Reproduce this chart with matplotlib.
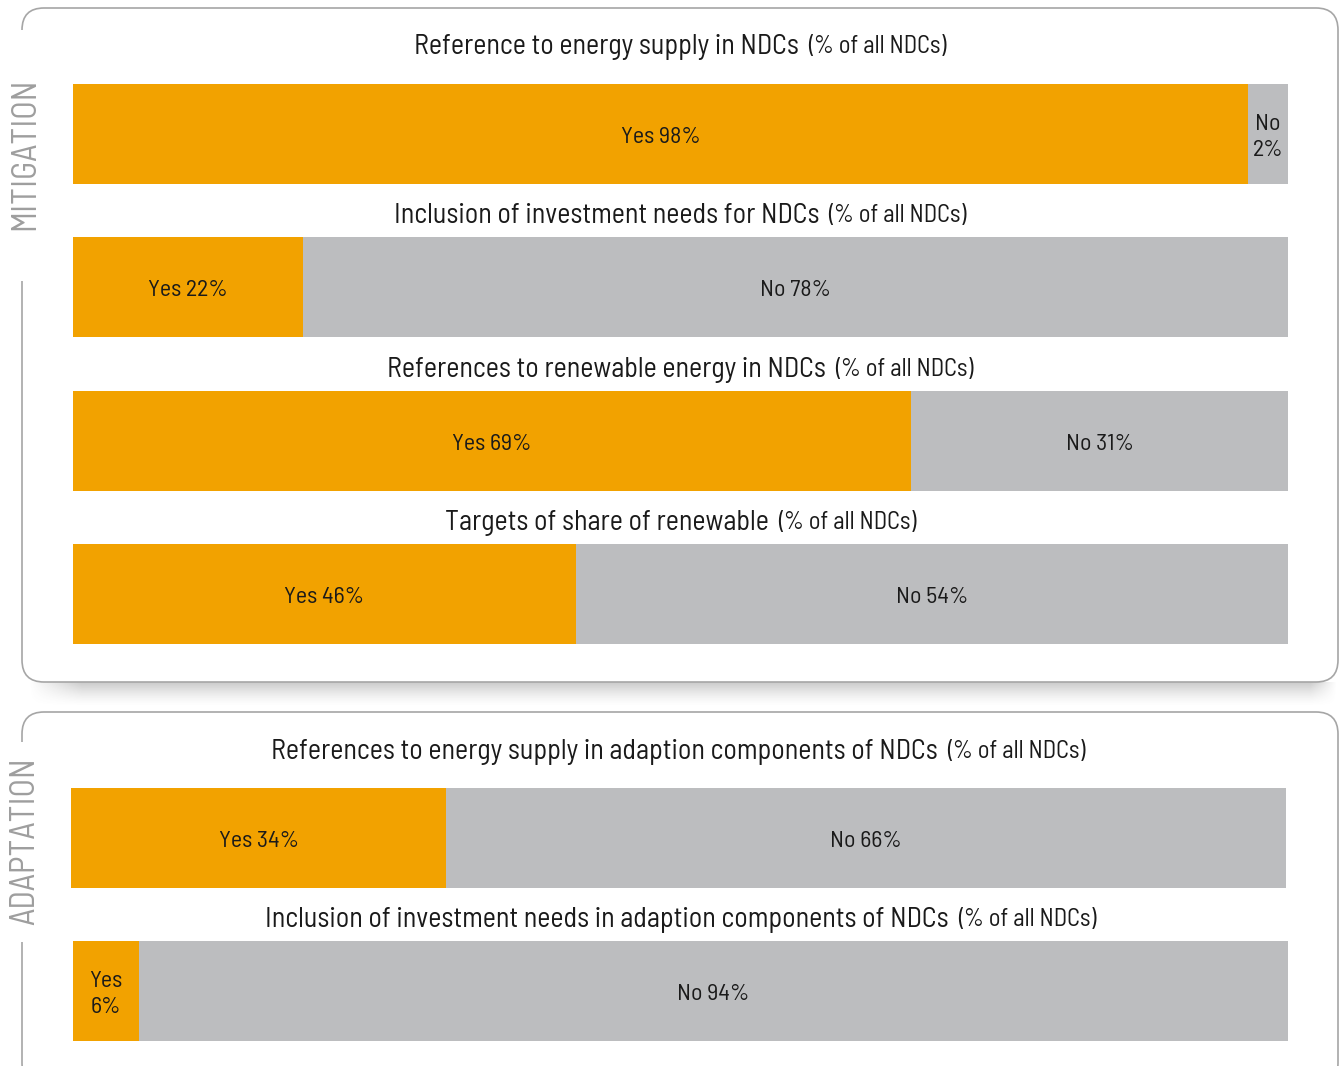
import matplotlib
matplotlib.use("Agg")
import matplotlib.pyplot as plt
import numpy as np
from matplotlib.patches import FancyBboxPatch, Rectangle
from matplotlib.transforms import offset_copy

FONT = ['Barlow Semi Condensed', 'Liberation Sans Narrow', 'DejaVu Sans']
plt.rcParams['font.family'] = FONT

# ---- data ----
titles_main = [
    "Reference to energy supply in NDCs",
    "Inclusion of investment needs for NDCs",
    "References to renewable energy in NDCs",
    "Targets of share of renewable",
    "References to energy supply in adaption components of NDCs",
    "Inclusion of investment needs in adaption components of NDCs",
]
title_suffix = "(% of all NDCs)"
# percentages printed in the labels
yes_labels = [98, 22, 69, 46, 34, 6]
no_labels = [2, 78, 31, 54, 66, 94]
# shares of the bar as drawn in the reference (%)
yes_drawn = [96.7, 18.9, 69.0, 41.4, 30.9, 5.4]
no_drawn = [3.3, 81.1, 31.0, 58.6, 69.1, 94.6]
section_labels = ["MITIGATION", "ADAPTATION"]

ORANGE = "#F2A200"
GREY = "#BCBDBF"
TXT = "#1a1a1a"

W, H = 1339, 1066
fig = plt.figure(figsize=(W / 100, H / 100), dpi=100)
fig.patch.set_facecolor("white")
renderer = fig.canvas.get_renderer()


def fit_size(text, target_w, **kw):
    t = fig.text(0, 0, text, fontsize=10, **kw)
    w = t.get_window_extent(renderer).width
    t.remove()
    return 10 * target_w / w


title_fs = fit_size("Reference to energy supply in NDCs", 386)
suffix_fs = title_fs * 0.88
label_fs = fit_size("Yes 98%", 80)
section_fs = fit_size("MITIGATION", 152)

# background axes in pixel coordinates for panel decorations
bg = fig.add_axes([0, 0, 1, 1], zorder=0)
bg.set_xlim(0, W)
bg.set_ylim(H, 0)
bg.axis("off")

# shadow under first panel
grad_y = np.linspace(0, 1, 40)
grad_x = np.linspace(0, 1, 400)
ay = (1 - grad_y) ** 1.5
axx = np.clip(np.minimum(grad_x / 0.04, (1 - grad_x) / 0.02), 0, 1)
alpha = ay[:, None] * axx[None, :] * 0.32
img = np.zeros((40, 400, 4))
img[..., :3] = 0.35
img[..., 3] = alpha
bg.imshow(img, extent=(28, 1338, 707, 682), aspect="auto", zorder=1,
          interpolation="bilinear")

panels = [(22, 8, 1338, 682), (22, 712, 1338, 1085)]
gaps = [(30, 281), (742, 942)]
label_y = [(78, 230), (758, 925)]
for (x0, y0, x1, y1), (g0, g1), lab, (ly0, ly1) in zip(panels, gaps, section_labels, label_y):
    p = FancyBboxPatch((x0, y0), x1 - x0, y1 - y0,
                       boxstyle="round,pad=0,rounding_size=22",
                       facecolor="white", edgecolor="#A6A6A6", linewidth=1.2, zorder=2)
    bg.add_patch(p)
    bg.add_patch(Rectangle((x0 - 4, g0), 8, g1 - g0, facecolor="white",
                           edgecolor="none", zorder=3))
    bg.text(25, (ly0 + ly1) / 2, lab, rotation=90, ha="center", va="center",
            fontsize=section_fs, color="#9E9E9E", zorder=4)

# bar geometry (pixels): x0, x1, y0, y1, title_y
bars_px = [
    (73, 1288, 84, 184, 44),
    (73, 1288, 237, 337, 213),
    (73, 1288, 391, 491, 367),
    (73, 1288, 544, 644, 520),
    (71, 1286, 788, 888, 749),
    (73, 1288, 941, 1041, 917),
]

for i, (x0, x1, y0, y1, ty) in enumerate(bars_px):
    ax = fig.add_axes([x0 / W, 1 - y1 / H, (x1 - x0) / W, (y1 - y0) / H], zorder=5)
    ax.barh([0], [yes_drawn[i]], height=1, color=ORANGE, linewidth=0)
    ax.barh([0], [no_drawn[i]], left=[yes_drawn[i]], height=1, color=GREY, linewidth=0)
    ax.set_xlim(0, yes_drawn[i] + no_drawn[i])
    ax.set_ylim(-0.5, 0.5)
    ax.axis("off")
    tr = offset_copy(ax.transData, fig=fig, y=-3.5, units="dots")
    segs = (("Yes", yes_labels[i], 0, yes_drawn[i]),
            ("No", no_labels[i], yes_drawn[i], no_drawn[i]))
    for name, v, left, wdt in segs:
        sep = "\n" if wdt < 10 else " "
        ax.text(left + wdt / 2, 0, f"{name}{sep}{v}%", ha="center", va="center",
                fontsize=label_fs, color=TXT, linespacing=1.3, transform=tr)
    # title in two parts, centered over bar
    cx = (x0 + x1) / 2
    t1 = bg.text(0, ty, titles_main[i], fontsize=title_fs, color=TXT,
                 ha="left", va="center_baseline", zorder=6)
    t2 = bg.text(0, ty, title_suffix, fontsize=suffix_fs, color=TXT,
                 ha="left", va="center_baseline", zorder=6)
    w1 = t1.get_window_extent(renderer).width
    w2 = t2.get_window_extent(renderer).width
    gap = 9
    start = cx - (w1 + gap + w2) / 2
    t1.set_x(start)
    t2.set_x(start + w1 + gap)

fig.savefig("out.png", dpi=100, facecolor="white")
